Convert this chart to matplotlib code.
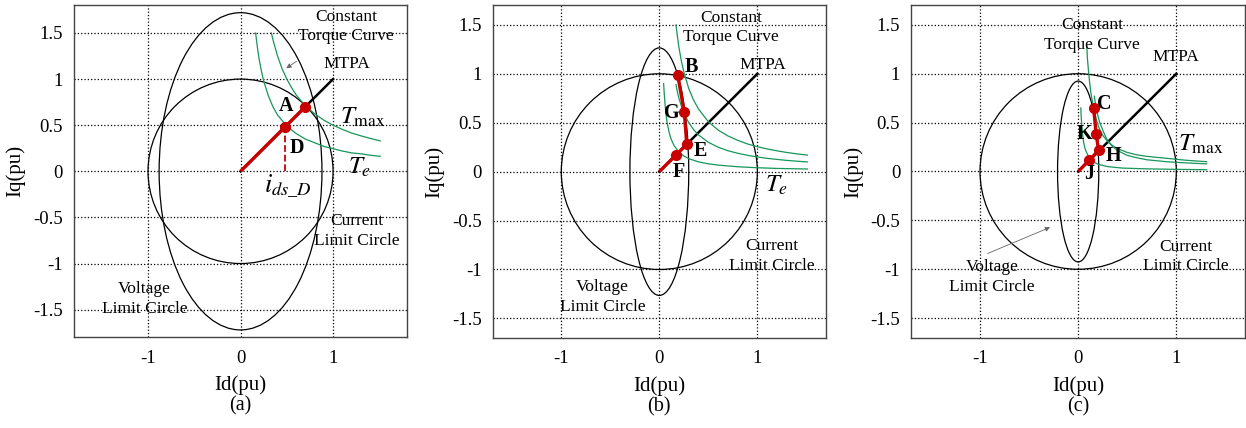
import numpy as np
import matplotlib
matplotlib.use("Agg")
import matplotlib.pyplot as plt
from matplotlib.patches import Circle, Ellipse

plt.rcParams['font.family'] = ['Liberation Serif', 'DejaVu Serif']
plt.rcParams['mathtext.fontset'] = 'stix'
plt.rcParams['axes.unicode_minus'] = False

# %% Data (all in pu)
x_ticks = [-1, 0, 1]
x_ticklabels = ['-1', '0', '1']
y_ticks = [-1.5, -1, -0.5, 0, 0.5, 1, 1.5]
y_ticklabels = ['-1.5', '-1', '-0.5', '0', '0.5', '1', '1.5']
panel_limits = [1.8, 1.7, 1.7]
panel_names = ['(a)', '(b)', '(c)']

current_radius = 1.0
# voltage limit ellipse semi-axes (id, iq) for each panel
volt_a = (0.88, 1.72)
volt_b = (0.30, 1.265)
volt_c = (0.21, 0.925)

mtpa_id = [0, 1.0]
mtpa_iq = [0, 1.0]

# (a) constant torque curves
a_te_id = [0.163, 0.18, 0.2, 0.225, 0.25, 0.3, 0.35, 0.4, 0.5, 0.6, 0.7, 0.8, 0.9, 1.0, 1.1, 1.2, 1.3, 1.4, 1.51]
a_te_iq = [1.50, 1.36, 1.22, 1.09, 0.98, 0.82, 0.70, 0.61, 0.49, 0.41, 0.35, 0.31, 0.27, 0.245, 0.22, 0.20, 0.19, 0.175, 0.162]
a_tmax_id = [0.333, 0.36, 0.4, 0.45, 0.5, 0.55, 0.6, 0.7, 0.8, 0.9, 1.0, 1.1, 1.2, 1.3, 1.4, 1.51]
a_tmax_iq = [1.50, 1.39, 1.25, 1.11, 1.00, 0.91, 0.83, 0.71, 0.625, 0.555, 0.50, 0.455, 0.415, 0.385, 0.357, 0.33]
# (a) operating path O -> D -> A
a_path_id = [0, 0.48, 0.70]
a_path_iq = [0, 0.48, 0.70]

# (b) constant torque curves
b_t1_id = [0.17, 0.185, 0.2, 0.225, 0.25, 0.3, 0.35, 0.4, 0.5, 0.6, 0.7, 0.8, 0.9, 1.0, 1.1, 1.2, 1.3, 1.4, 1.51]
b_t1_iq = [1.50, 1.38, 1.27, 1.13, 1.02, 0.85, 0.73, 0.64, 0.51, 0.425, 0.365, 0.32, 0.283, 0.255, 0.232, 0.213, 0.196, 0.182, 0.169]
b_t2_id = [0.17, 0.185, 0.2, 0.225, 0.25, 0.3, 0.35, 0.4, 0.5, 0.6, 0.7, 0.8, 0.9, 1.0, 1.1, 1.2, 1.3, 1.4, 1.51]
b_t2_iq = [0.89, 0.81, 0.75, 0.67, 0.60, 0.50, 0.43, 0.375, 0.30, 0.25, 0.214, 0.188, 0.167, 0.15, 0.136, 0.125, 0.115, 0.107, 0.099]
b_t3_id = [0.044, 0.05, 0.06, 0.07, 0.08, 0.1, 0.12, 0.15, 0.2, 0.25, 0.3, 0.4, 0.5, 0.6, 0.8, 1.0, 1.2, 1.51]
b_t3_iq = [0.90, 0.80, 0.67, 0.57, 0.50, 0.40, 0.333, 0.267, 0.20, 0.16, 0.133, 0.10, 0.08, 0.067, 0.05, 0.04, 0.033, 0.027]
# (b) operating path O -> F -> E -> G -> B
b_path_id = [0, 0.175, 0.28, 0.255, 0.187]
b_path_iq = [0, 0.175, 0.28, 0.605, 0.99]

# (c) constant torque curves
c_t1_id = [0.088, 0.095, 0.105, 0.117, 0.13, 0.157, 0.18, 0.21, 0.25, 0.29, 0.35, 0.4, 0.5, 0.6, 0.7, 0.9, 1.1, 1.31]
c_t1_iq = [1.28, 1.15, 1.03, 0.91, 0.80, 0.65, 0.55, 0.45, 0.37, 0.32, 0.265, 0.235, 0.195, 0.17, 0.155, 0.135, 0.115, 0.10]
c_t2_id = [0.165, 0.175, 0.19, 0.205, 0.22, 0.24, 0.26, 0.285, 0.31, 0.35, 0.4, 0.5, 0.6, 0.7, 0.9, 1.1, 1.31]
c_t2_iq = [0.77, 0.70, 0.62, 0.555, 0.50, 0.45, 0.40, 0.345, 0.30, 0.255, 0.215, 0.165, 0.14, 0.12, 0.10, 0.088, 0.078]
c_t3_id = [0.027, 0.03, 0.035, 0.04, 0.045, 0.055, 0.065, 0.075, 0.09, 0.105, 0.125, 0.15, 0.18, 0.21, 0.3, 0.45, 0.7, 1.0, 1.31]
c_t3_iq = [0.65, 0.57, 0.50, 0.44, 0.38, 0.30, 0.255, 0.22, 0.185, 0.155, 0.127, 0.105, 0.085, 0.072, 0.05, 0.035, 0.027, 0.022, 0.018]
# (c) operating path O -> J -> H -> K -> C
c_path_id = [0, 0.113, 0.208, 0.184, 0.157]
c_path_iq = [0, 0.116, 0.215, 0.379, 0.652]

GREEN = '#16965A'
RED = '#C80000'

# %% Figure
fig = plt.figure(figsize=(12.46, 4.28), dpi=100)
axes = [fig.add_axes([0.0594, 0.2119, 0.2673, 0.7757]),
        fig.add_axes([0.3954, 0.2103, 0.2675, 0.7773]),
        fig.add_axes([0.7314, 0.2110, 0.2678, 0.7766])]


def base_panel(ax, lim, volt, name):
    ax.set_xlim(-lim, lim)
    ax.set_ylim(-lim, lim)
    ax.set_xticks(x_ticks)
    ax.set_xticklabels(x_ticklabels)
    ax.set_yticks(y_ticks)
    ax.set_yticklabels(y_ticklabels)
    ax.tick_params(length=0, labelsize=13.5)
    ax.tick_params(axis='x', pad=9)
    ax.tick_params(axis='y', pad=8)
    ax.grid(True, color='k', linestyle=':', linewidth=0.9)
    ax.set_axisbelow(True)
    for sp in ax.spines.values():
        sp.set_color('#444444')
        sp.set_linewidth(1.0)
    ax.set_xlabel('Id(pu)', fontsize=15)
    ax.xaxis.set_label_coords(0.5, -0.145)
    ax.xaxis.label.set_verticalalignment('center')
    ax.set_ylabel('Iq(pu)', fontsize=15)
    ax.yaxis.set_label_coords(-0.175, 0.5)
    ax.yaxis.label.set_verticalalignment('center')
    ax.set_title(name, y=-0.232, va='center', fontsize=14.5)
    ax.add_patch(Circle((0, 0), current_radius, fill=False, color='k', lw=0.9))
    ax.add_patch(Ellipse((0, 0), 2 * volt[0], 2 * volt[1], fill=False, color='k', lw=0.9))
    ax.plot(mtpa_id, mtpa_iq, color='k', lw=1.8)


def path(ax, pid, piq):
    ax.plot(pid, piq, color=RED, lw=2.4, solid_capstyle='butt')
    ax.plot(pid[1:], piq[1:], 'o', color=RED, ms=7)


def label(ax, x, y, s, **kw):
    ax.text(x, y, s, ha='center', va='center', fontsize=12.5, linespacing=1.3, **kw)


def letter(ax, x, y, s):
    ax.text(x, y, s, ha='center', va='center', fontsize=14.5, fontweight='bold')


# (a)
ax = axes[0]
base_panel(ax, panel_limits[0], volt_a, panel_names[0])
ax.plot(a_te_id, a_te_iq, color=GREEN, lw=0.9)
ax.plot(a_tmax_id, a_tmax_iq, color=GREEN, lw=0.9)
path(ax, a_path_id, a_path_iq)
ax.plot([a_path_id[1], a_path_id[1]], [0, a_path_iq[1]], '--', color=RED, lw=1.3)
label(ax, 1.14, 1.57, 'Constant\nTorque Curve')
label(ax, 1.145, 1.16, 'MTPA')
label(ax, 1.26, -0.65, 'Current\nLimit Circle')
label(ax, -1.04, -1.385, 'Voltage\nLimit Circle')
letter(ax, 0.49, 0.71, 'A')
letter(ax, 0.61, 0.25, 'D')
ax.text(1.07, 0.52, r'$T_{\mathrm{max}}$', fontsize=18)
ax.text(1.16, -0.03, r'$T_e$', fontsize=18)
ax.text(0.25, -0.23, r'$i_{ds\_D}$', fontsize=19)
ax.annotate('', xy=(0.47, 1.10), xytext=(0.63, 1.21),
            arrowprops=dict(arrowstyle='-|>', color='#666666', lw=0.6, mutation_scale=7))

# (b)
ax = axes[1]
base_panel(ax, panel_limits[1], volt_b, panel_names[1])
ax.plot(b_t1_id, b_t1_iq, color=GREEN, lw=0.9)
ax.plot(b_t2_id, b_t2_iq, color=GREEN, lw=0.9)
ax.plot(b_t3_id, b_t3_iq, color=GREEN, lw=0.9)
path(ax, b_path_id, b_path_iq)
label(ax, 0.735, 1.475, 'Constant\nTorque Curve')
label(ax, 1.06, 1.095, 'MTPA')
label(ax, 1.145, -0.86, 'Current\nLimit Circle')
label(ax, -0.58, -1.28, 'Voltage\nLimit Circle')
letter(ax, 0.33, 1.07, 'B')
letter(ax, 0.127, 0.597, 'G')
letter(ax, 0.417, 0.214, 'E')
letter(ax, 0.196, 0.0, 'F')
ax.text(1.08, -0.21, r'$T_e$', fontsize=18)

# (c)
ax = axes[2]
base_panel(ax, panel_limits[2], volt_c, panel_names[2])
ax.plot(c_t1_id, c_t1_iq, color=GREEN, lw=0.9)
ax.plot(c_t2_id, c_t2_iq, color=GREEN, lw=0.9)
ax.plot(c_t3_id, c_t3_iq, color=GREEN, lw=0.9)
path(ax, c_path_id, c_path_iq)
label(ax, 0.14, 1.394, 'Constant\nTorque Curve')
label(ax, 0.993, 1.17, 'MTPA')
label(ax, 1.10, -0.87, 'Current\nLimit Circle')
label(ax, -0.877, -1.08, 'Voltage\nLimit Circle')
letter(ax, 0.268, 0.695, 'C')
letter(ax, 0.063, 0.379, 'K')
letter(ax, 0.362, 0.157, 'H')
letter(ax, 0.109, -0.03, 'J')
ax.text(1.02, 0.215, r'$T_{\mathrm{max}}$', fontsize=18)
ax.annotate('', xy=(-0.26, -0.56), xytext=(-0.95, -0.85),
            arrowprops=dict(arrowstyle='-|>', color='#666666', lw=0.6, mutation_scale=7))

fig.savefig('out.png', dpi=100)
